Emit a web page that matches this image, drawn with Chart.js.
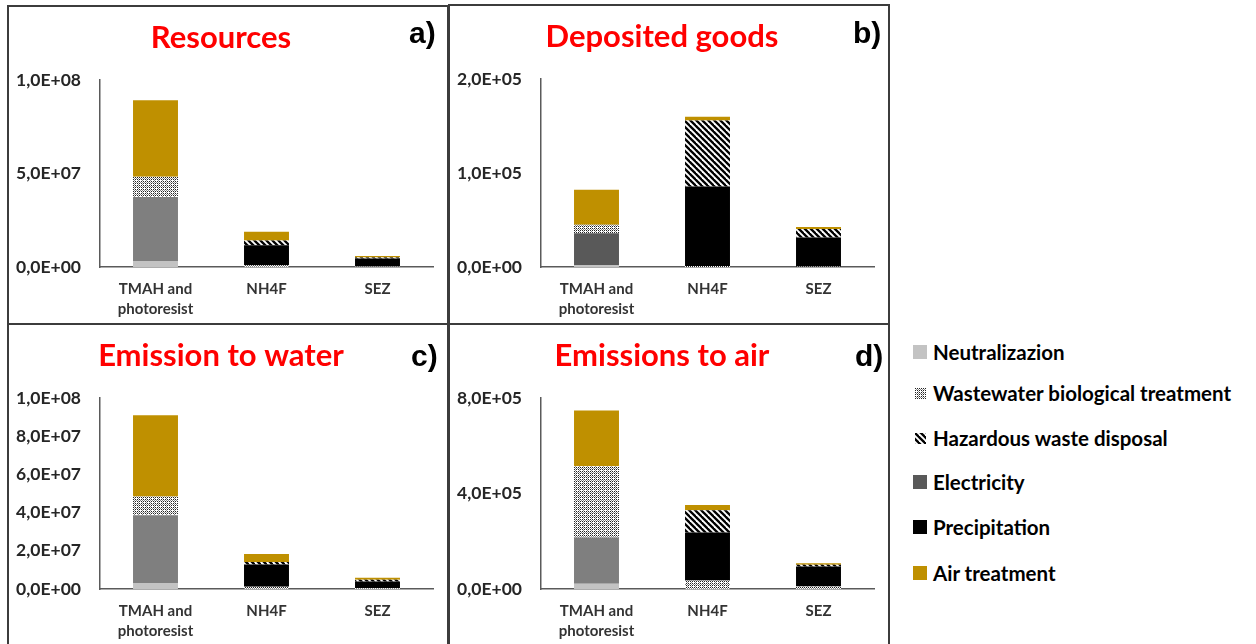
<!DOCTYPE html>
<html>
<head>
<meta charset="utf-8">
<script src="https://cdn.jsdelivr.net/npm/chart.js@4"></script>
<style>
  body { margin: 0; background: #fff; width: 1256px; height: 644px; position: relative; overflow: hidden; font-family: Lato, sans-serif; }
  .panel { position: absolute; box-sizing: border-box; border: 2px solid #3c3c3c; width: 442px; }
  .panel canvas { position: absolute; left: 0; top: 0; }
  .tag { position: absolute; font: bold 30px "Liberation Sans", Arial, sans-serif; color: #000; line-height: 30px; }
  .leg { position: absolute; left: 913px; font: bold 20.5px Lato, sans-serif; color: #000; height: 22px; line-height: 22px; white-space: nowrap; }
  .leg canvas { position: absolute; left: 0; top: 4px; }
  .leg span { position: absolute; left: 20px; top: 0; }
</style>
</head>
<body>
<div class="panel" style="left:7px;top:5px;height:320px"><canvas id="ca" width="438" height="316"></canvas></div>
<div class="panel" style="left:448px;top:4px;height:321px"><canvas id="cb" width="438" height="317"></canvas></div>
<div class="panel" style="left:7px;top:323px;height:330px"><canvas id="cc" width="438" height="320"></canvas></div>
<div class="panel" style="left:448px;top:323px;height:330px"><canvas id="cd" width="438" height="320"></canvas></div>
<div class="tag" style="left:409px;top:18px">a)</div>
<div class="tag" style="left:853px;top:18px">b)</div>
<div class="tag" style="left:411px;top:341px">c)</div>
<div class="tag" style="left:855px;top:341px">d)</div>
<div id="legend"></div>
<script>
// categories and series
const categories = [['TMAH and', 'photoresist'], 'NH4F', 'SEZ'];
const seriesNames = ['Neutralizazion', 'Wastewater biological treatment', 'Hazardous waste disposal', 'Electricity', 'Precipitation', 'Air treatment'];

// a) Resources
const resNeutral = [3.2e6, 0, 0];
const resElectricity = [3.43e7, 0, 0];
const resWastewater = [1.08e7, 1.0e6, 0.3e6];
const resPrecipitation = [0, 1.07e7, 4.2e6];
const resHazardous = [0, 2.5e6, 0.6e6];
const resAir = [4.1e7, 4.7e6, 0.8e6];
const resTicks = [0, 5e7, 1e8];

// b) Deposited goods
const depNeutral = [2e3, 0, 0];
const depElectricity = [3.4e4, 0, 0];
const depWastewater = [9e3, 1e3, 5e2];
const depPrecipitation = [0, 8.46e4, 3.1e4];
const depHazardous = [0, 7.04e4, 9e3];
const depAir = [3.73e4, 4e3, 2e3];
const depTicks = [0, 1e5, 2e5];

// c) Emission to water
const watNeutral = [3.1e6, 0, 0];
const watElectricity = [3.55e7, 0, 0];
const watWastewater = [9.9e6, 1.2e6, 0.5e6];
const watPrecipitation = [0, 1.17e7, 3.4e6];
const watHazardous = [0, 1.3e6, 0.9e6];
const watAir = [4.25e7, 4.1e6, 1.1e6];
const watTicks = [0, 2e7, 4e7, 6e7, 8e7, 1e8];

// d) Emissions to air
const airNeutral = [2.2e4, 0, 0];
const airElectricity = [1.94e5, 0, 0];
const airWastewater = [2.99e5, 3.6e4, 1e4];
const airPrecipitation = [0, 2.01e5, 8.4e4];
const airHazardous = [0, 9.3e4, 8e3];
const airAir = [2.33e5, 2.2e4, 6e3];
const airTicks = [0, 4e5, 8e5];

function dotPattern(ctx) {
	const c = document.createElement('canvas');
	c.width = 4; c.height = 4;
	const g = c.getContext('2d');
	g.fillStyle = '#fff';
	g.fillRect(0, 0, 4, 4);
	g.fillStyle = '#222';
	[[0,0],[2,0],[0,2],[2,2]].forEach(p => g.fillRect(p[0], p[1], 1, 1));
	g.fillStyle = '#888';
	[[1,1],[3,3],[1,3]].forEach(p => g.fillRect(p[0], p[1], 1, 1));
	return ctx.createPattern(c, 'repeat');
}

function stripePattern(ctx) {
	const n = 6;
	const c = document.createElement('canvas');
	c.width = n; c.height = n;
	const g = c.getContext('2d');
	g.fillStyle = '#fff';
	g.fillRect(0, 0, n, n);
	g.strokeStyle = '#000';
	g.lineWidth = 2.3;
	for (const o of [-n, 0, n]) {
		g.beginPath();
		g.moveTo(o - 1, -1);
		g.lineTo(o + n + 1, n + 1);
		g.stroke();
	}
	return ctx.createPattern(c, 'repeat');
}

function sci(v) {
	if (v === 0) return '0,0E+00';
	const e = Math.floor(Math.log10(v) + 1e-9);
	const m = v / Math.pow(10, e);
	return m.toFixed(1).replace('.', ',') + 'E+' + String(e).padStart(2, '0');
}

function panel(id, title, values, ticks, elecColor) {
	const ctx = document.getElementById(id).getContext('2d');
	const fills = ['#c3c3c3', elecColor, dotPattern(ctx), '#000000', stripePattern(ctx), '#bf9000'];
	// stacking order bottom -> top: neutral, electricity, wastewater, precipitation, hazardous, air
	const order = [
		[0, values[0]], [3, values[1]], [1, values[2]], [4, values[3]], [2, values[4]], [5, values[5]]
	];
	new Chart(ctx, {
		type: 'bar',
		data: {
			labels: categories,
			datasets: order.map((o, i) => ({
				label: seriesNames[o[0]],
				data: o[1],
				backgroundColor: fills[i],
				borderWidth: 0,
				barPercentage: 0.405,
				categoryPercentage: 1
			}))
		},
		options: {
			responsive: false,
			animation: false,
			layout: { padding: { left: 0, right: 14, top: 0, bottom: 0 } },
			plugins: {
				legend: { display: false },
				tooltip: { enabled: false },
				title: {
					display: true,
					text: title,
					color: '#ff0000',
					font: { family: 'Lato', size: 31, weight: 'bold' },
					padding: { top: 12, bottom: 24 }
				}
			},
			scales: {
				x: {
					stacked: true,
					grid: { display: false, drawTicks: false },
					border: { display: true, color: '#5a5a5a', width: 1.5 },
					ticks: {
						color: '#333333',
						font: { family: 'Lato', size: 15, weight: 'bold', lineHeight: 1.33 },
						padding: 12,
						maxRotation: 0,
						autoSkip: false
					},
					afterFit: s => { s.height = 56; }
				},
				y: {
					stacked: true,
					min: ticks[0],
					max: ticks[ticks.length - 1],
					afterBuildTicks: s => { s.ticks = ticks.map(v => ({ value: v })); },
					grid: { display: false, drawTicks: false },
					border: { display: true, color: '#5a5a5a', width: 1.5 },
					ticks: {
						color: '#262626',
						font: { family: 'Lato', size: 17.5, weight: 'bold' },
						padding: 19,
						callback: v => sci(v)
					},
					afterFit: s => { s.width = 91; }
				}
			}
		}
	});
}

panel('ca', 'Resources', [resNeutral, resElectricity, resWastewater, resPrecipitation, resHazardous, resAir], resTicks, '#7f7f7f');
panel('cb', 'Deposited goods', [depNeutral, depElectricity, depWastewater, depPrecipitation, depHazardous, depAir], depTicks, '#595959');
panel('cc', 'Emission to water', [watNeutral, watElectricity, watWastewater, watPrecipitation, watHazardous, watAir], watTicks, '#7f7f7f');
panel('cd', 'Emissions to air', [airNeutral, airElectricity, airWastewater, airPrecipitation, airHazardous, airAir], airTicks, '#7f7f7f');

// legend on the right
const legendY = [352, 393, 438, 482, 527, 573];
const legend = document.getElementById('legend');
seriesNames.forEach((name, i) => {
	const row = document.createElement('div');
	row.className = 'leg';
	row.style.top = (legendY[i] - 11) + 'px';
	const sw = document.createElement('canvas');
	sw.width = 14; sw.height = 14;
	const g = sw.getContext('2d');
	const small = i === 1 || i === 2;
	if (i === 1) g.fillStyle = dotPattern(g);
	else if (i === 2) g.fillStyle = stripePattern(g);
	else g.fillStyle = ['#c3c3c3', null, null, '#595959', '#000000', '#bf9000'][i];
	g.fillRect(small ? 2 : 0, small ? 2 : 0, small ? 11 : 14, small ? 11 : 14);
	const t = document.createElement('span');
	t.textContent = name;
	row.appendChild(sw);
	row.appendChild(t);
	legend.appendChild(row);
});
</script>
</body>
</html>
